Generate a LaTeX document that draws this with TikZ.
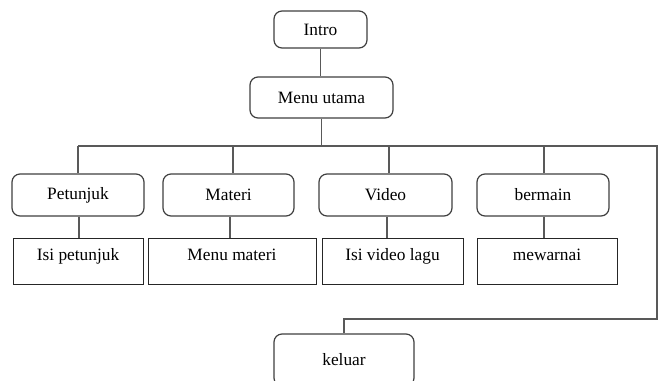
\documentclass[tikz,border=0pt]{standalone}
\usepackage{fontspec}
\setmainfont{Liberation Serif}
\begin{document}
\begin{tikzpicture}[x=0.75pt,y=-0.75pt,
  line/.style={draw=black!65, line width=0.9pt},
  rbox/.style={draw=black!75, line width=0.9pt, rounded corners=6pt, inner sep=0pt,
    font=\fontsize{13}{15}\selectfont},
  sbox/.style={draw=black!85, line width=0.7pt, inner sep=0pt, text height=16.5pt, text depth=18pt,
    font=\fontsize{13}{15}\selectfont}]
\useasboundingbox[fill=white] (0,0) rectangle (662,380);
% top
\node[rbox, minimum width=69.75pt, minimum height=27.75pt] (intro) at (320.5,29.5) {Intro};
\node[rbox, minimum width=107.25pt, minimum height=30.75pt] (menu) at (321.5,97.5) {Menu utama};
% second row
\node[rbox, minimum width=99pt, minimum height=31.5pt] (petunjuk) at (78,195) {Petunjuk};
\node[rbox, minimum width=98.25pt, minimum height=31.5pt] (materi) at (228.5,195) {Materi};
\node[rbox, minimum width=99.75pt, minimum height=31.5pt] (video) at (385.5,195) {Video};
\node[rbox, minimum width=99pt, minimum height=31.5pt] (bermain) at (543,195) {bermain};
% third row
\node[sbox, minimum width=97.5pt] (isipet) at (78,261) {Isi petunjuk};
\node[sbox, minimum width=126pt] (menumat) at (232,261) {Menu materi};
\node[sbox, minimum width=105.75pt] (isivid) at (392.5,261) {Isi video lagu};
\node[sbox, minimum width=105pt] (mewarnai) at (547,261) {mewarnai};
% exit
\node[rbox, minimum width=105pt, minimum height=39pt] (keluar) at (344,360) {keluar};
% connectors
\coordinate (busL) at (78,146);
\coordinate (busR) at (657,146);
\coordinate (corner) at (657,319);
\draw[line] (intro.south) -- (intro.south |- menu.north);
\draw[line] (menu.south) -- (menu.south |- busL);
\draw[line] (busL) -- (busR) -- (corner) -| (keluar.north);
\draw[line] (petunjuk.north |- busL) -- (petunjuk.north);
\draw[line] ([xshift=3.4pt]materi.north |- busL) -- ([xshift=3.4pt]materi.north);
\draw[line] ([xshift=2.6pt]video.north |- busL) -- ([xshift=2.6pt]video.north);
\draw[line] ([xshift=0.75pt]bermain.north |- busL) -- ([xshift=0.75pt]bermain.north);
\draw[line] ([xshift=0.75pt]petunjuk.south) -- ([xshift=0.75pt]petunjuk.south |- isipet.north);
\draw[line] ([xshift=1.1pt]materi.south) -- ([xshift=1.1pt]materi.south |- menumat.north);
\draw[line] ([xshift=1.1pt]video.south) -- ([xshift=1.1pt]video.south |- isivid.north);
\draw[line] ([xshift=0.75pt]bermain.south) -- ([xshift=0.75pt]bermain.south |- mewarnai.north);
\end{tikzpicture}
\end{document}
